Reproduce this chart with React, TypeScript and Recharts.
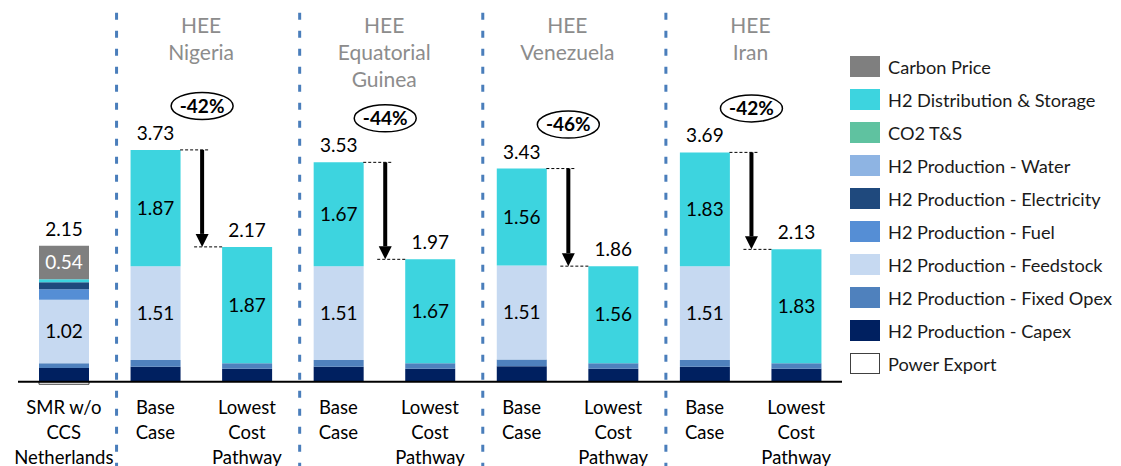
import React from 'react';
import {
  BarChart,
  Bar,
  XAxis,
  YAxis,
  Legend,
  LabelList,
  ReferenceLine,
  ReferenceArea,
} from 'recharts';

// ---------- data ----------
const categories = ['SMR', 'NG-Base', 'NG-Low', 'EG-Base', 'EG-Low', 'VE-Base', 'VE-Low', 'IR-Base', 'IR-Low'];
const tickLabels = [
  'SMR w/o\nCCS\nNetherlands',
  'Base\nCase',
  'Lowest\nCost\nPathway',
  'Base\nCase',
  'Lowest\nCost\nPathway',
  'Base\nCase',
  'Lowest\nCost\nPathway',
  'Base\nCase',
  'Lowest\nCost\nPathway',
];
const powerExport = [-0.04, 0, 0, 0, 0, 0, 0, 0, 0];
const capex = [0.22, 0.24, 0.21, 0.24, 0.21, 0.25, 0.21, 0.24, 0.21];
const fixedOpex = [0.08, 0.11, 0.09, 0.11, 0.09, 0.11, 0.09, 0.11, 0.09];
const feedstock = [1.02, 1.51, 0, 1.51, 0, 1.51, 0, 1.51, 0];
const fuel = [0.17, 0, 0, 0, 0, 0, 0, 0, 0];
const electricity = [0.11, 0, 0, 0, 0, 0, 0, 0, 0];
const water = [0, 0, 0, 0, 0, 0, 0, 0, 0];
const co2TS = [0, 0, 0, 0, 0, 0, 0, 0, 0];
const h2Dist = [0.05, 1.87, 1.87, 1.67, 1.67, 1.56, 1.56, 1.83, 1.83];
const carbonPrice = [0.54, 0, 0, 0, 0, 0, 0, 0, 0];
const totals = [2.15, 3.73, 2.17, 3.53, 1.97, 3.43, 1.86, 3.69, 2.13];

const groupBase = ['NG-Base', 'EG-Base', 'VE-Base', 'IR-Base'];
const groupLow = ['NG-Low', 'EG-Low', 'VE-Low', 'IR-Low'];
const groupHeaders = ['HEE\nNigeria', 'HEE\nEquatorial\nGuinea', 'HEE\nVenezuela', 'HEE\nIran'];
const groupBaseTotals = [3.73, 3.53, 3.43, 3.69];
const groupLowTotals = [2.17, 1.97, 1.86, 2.13];
const groupReductions = ['-42%', '-44%', '-46%', '-42%'];

const data = categories.map((cat, i) => ({
  cat,
  powerExport: powerExport[i],
  capex: capex[i],
  fixedOpex: fixedOpex[i],
  feedstock: feedstock[i],
  fuel: fuel[i],
  electricity: electricity[i],
  water: water[i],
  co2TS: co2TS[i],
  h2Dist: h2Dist[i],
  carbonPrice: carbonPrice[i],
  total: totals[i],
}));

// stack order bottom -> top
const series = [
  { key: 'powerExport', name: 'Power Export', color: '#FFFFFF', stroke: '#404040' },
  { key: 'capex', name: 'H2 Production - Capex', color: '#002060' },
  { key: 'fixedOpex', name: 'H2 Production - Fixed Opex', color: '#4F81BD' },
  { key: 'feedstock', name: 'H2 Production - Feedstock', color: '#C6D9F1' },
  { key: 'fuel', name: 'H2 Production - Fuel', color: '#558ED5' },
  { key: 'electricity', name: 'H2 Production - Electricity', color: '#1F497D' },
  { key: 'water', name: 'H2 Production - Water', color: '#8EB4E3' },
  { key: 'co2TS', name: 'CO2 T&S', color: '#5FC2A0' },
  { key: 'h2Dist', name: 'H2 Distribution & Storage', color: '#3DD4DF' },
  { key: 'carbonPrice', name: 'Carbon Price', color: '#7F7F7F' },
];

// which series is the top-most positive segment of each column
const topKeyOf = data.map((row: any) => {
  let top = '';
  series.forEach((s) => {
    if (row[s.key] > 0) top = s.key;
  });
  return top;
});

// ---------- styles ----------
const FONT = 'Lato, "Open Sans", sans-serif';
const BAR_SIZE = 50;
const SEP_COLOR = '#4A7EBB';
const W = 1113;
const H = 458;

const CategoryTick = (props: any) => {
  const { x, y, payload } = props;
  const i = categories.indexOf(payload.value);
  const lines = (tickLabels[i] || '').split('\n');
  return (
    <g>
      {lines.map((t, k) => (
        <text key={k} x={x} y={y + 25.5 + k * 25} textAnchor="middle" fontFamily={FONT} fontSize={18.5} fill="#000">
          {t}
        </text>
      ))}
    </g>
  );
};

const segmentLabel = (color: string) => (p: any) => {
  const { x, y, width, height, value } = p;
  if (value == null || Math.abs(Number(value)) < 0.3) return null;
  return (
    <text x={x + width / 2} y={y + height / 2 + 6.6} textAnchor="middle" fontFamily={FONT} fontSize={19} fill={color}>
      {Number(value).toFixed(2)}
    </text>
  );
};

const totalLabel = (key: string) => (p: any) => {
  const { x, y, width, index } = p;
  if (index == null || topKeyOf[index] !== key) return null;
  return (
    <text x={x + width / 2} y={y - 10} textAnchor="middle" fontFamily={FONT} fontSize={19} fill="#000">
      {totals[index].toFixed(2)}
    </text>
  );
};

const HeaderLabel = (props: any) => {
  const { viewBox, text } = props;
  if (!viewBox) return null;
  const cx = viewBox.x + viewBox.width / 2;
  const lines = String(text).split('\n');
  return (
    <g>
      {lines.map((t: string, k: number) => (
        <text key={k} x={cx} y={viewBox.y + 17.5 + k * 27} textAnchor="middle" fontFamily={FONT} fontSize={21} fill="#8C8C8C">
          {t}
        </text>
      ))}
    </g>
  );
};

const ArrowShape = (props: any) => {
  const { x1, y1, y2, pct } = props;
  const bx = x1 + 1;
  const top = Math.min(y1, y2);
  const bot = Math.max(y1, y2);
  const head = 13;
  return (
    <g>
      <line x1={x1 - 21} y1={top} x2={x1 + 9} y2={top} stroke="#000" strokeWidth={1} strokeDasharray="3 2" />
      <line x1={x1 - 7} y1={bot} x2={x1 + 21} y2={bot} stroke="#000" strokeWidth={1} strokeDasharray="3 2" />
      <rect x={bx - 2} y={top} width={4} height={bot - top - head} fill="#000" />
      <polygon points={`${bx - 6.5},${bot - head} ${bx + 6.5},${bot - head} ${bx},${bot}`} fill="#000" />
      <ellipse cx={bx} cy={top - 44} rx={31} ry={13.5} fill="#fff" stroke="#000" strokeWidth={1.5} />
      <text x={bx} y={top - 44 + 6.8} textAnchor="middle" fontFamily={FONT} fontWeight={700} fontSize={19} fill="#000">
        {pct}
      </text>
    </g>
  );
};

const SeparatorShape = (props: any) => {
  const { x1, y1, y2 } = props;
  const x = x1 + 7;
  return (
    <line x1={x} y1={Math.min(y1, y2) - 2.3} x2={x} y2={Math.max(y1, y2) + 80} stroke={SEP_COLOR} strokeWidth={3} strokeDasharray="7 11" />
  );
};

const LegendBox = () => {
  const items = [...series].reverse();
  return (
    <div style={{ width: 271 }}>
      {items.map((s) => (
        <div key={s.key} style={{ display: 'flex', alignItems: 'center', height: 33 }}>
          <div
            style={{
              width: s.stroke ? 28 : 30,
              height: s.stroke ? 19 : 21,
              background: s.color,
              border: s.stroke ? `1px solid ${s.stroke}` : 'none',
              flex: 'none',
            }}
          />
          <span style={{ marginLeft: 8, fontFamily: FONT, fontSize: 18.2, color: '#1a1a1a', whiteSpace: 'nowrap' }}>{s.name}</span>
        </div>
      ))}
    </div>
  );
};

export default function App() {
  return (
    <div style={{ width: W, height: H, background: '#fff' }}>
      <BarChart
        width={W}
        height={H}
        data={data}
        stackOffset="sign"
        barSize={BAR_SIZE}
        margin={{ top: 7, right: 8, bottom: 0, left: 10 }}
      >
        <XAxis
          dataKey="cat"
          interval={0}
          height={78}
          axisLine={false}
          tickLine={false}
          tickSize={0}
          tickMargin={0}
          tick={<CategoryTick />}
        />
        <YAxis hide domain={[-0.1, 5.9]} allowDataOverflow />
        <Legend
          layout="vertical"
          align="right"
          verticalAlign="top"
          wrapperStyle={{ left: 842, top: 42, width: 271 }}
          content={() => <LegendBox />}
        />
        {groupBase.map((b, i) => (
          <ReferenceArea
            key={'hdr' + i}
            x1={b}
            x2={groupLow[i]}
            y1={5.5}
            y2={5.9}
            fillOpacity={0}
            strokeOpacity={0}
            label={<HeaderLabel text={groupHeaders[i]} />}
          />
        ))}
        {series.map((s) => (
          <Bar
            key={s.key}
            dataKey={s.key}
            name={s.name}
            stackId="a"
            fill={s.color}
            stroke={s.stroke || 'none'}
            strokeWidth={s.stroke ? 1 : 0}
            isAnimationActive={false}
          >
            {(s.key === 'feedstock' || s.key === 'h2Dist') && <LabelList dataKey={s.key} content={segmentLabel('#000')} />}
            {s.key === 'carbonPrice' && <LabelList dataKey={s.key} content={segmentLabel('#fff')} />}
            {s.key !== 'powerExport' && <LabelList dataKey={s.key} content={totalLabel(s.key)} />}
          </Bar>
        ))}
        <ReferenceLine y={0} stroke="#000" strokeWidth={2} />
        {groupBase.map((b) => (
          <ReferenceLine key={'sep' + b} x={b} position="start" shape={(p: any) => <SeparatorShape {...p} />} />
        ))}
        {groupBase.map((b, i) => (
          <ReferenceLine
            key={'arr' + b}
            position="end"
            segment={[
              { x: b, y: groupBaseTotals[i] },
              { x: b, y: groupLowTotals[i] },
            ]}
            shape={(p: any) => <ArrowShape {...p} pct={groupReductions[i]} />}
          />
        ))}
      </BarChart>
    </div>
  );
}
